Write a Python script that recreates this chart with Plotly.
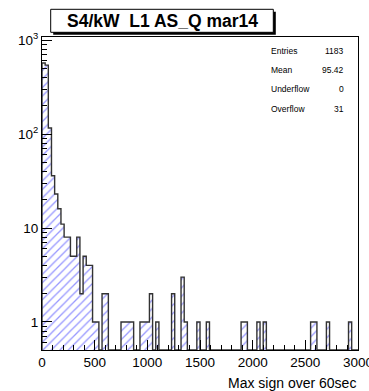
import plotly.graph_objects as go

# ---- data ----
x_min = 0
bin_width = 30
counts = [570, 540, 116, 36, 23, 16, 11, 8, 8, 5,
          5, 8, 2, 5, 4, 4, 1, 1, 0, 2,
          2, 0, 0, 0, 0, 1, 1, 1, 1, 0,
          0, 1, 1, 1, 2, 0, 1, 0, 0, 0,
          0, 2, 0, 0, 3, 1, 0, 0, 0, 1,
          0, 0, 1, 0, 0, 0, 0, 0, 0, 0,
          0, 0, 0, 1, 1, 0, 0, 0, 1, 0,
          1, 0, 0, 0, 0, 0, 0, 0, 0, 0,
          0, 0, 0, 0, 0, 1, 1, 0, 0, 0,
          1, 0, 0, 0, 0, 0, 0, 1, 0, 0]
x_ticks = [0, 500, 1000, 1500, 2000, 2500, 3000]
y_tickvals = [1, 10, 100, 1000]
y_ticktext = ["1", "10", "10<sup>2</sup>", "10<sup>3</sup>"]
title_text = "S4/kW\u00a0\u00a0L1 AS_Q mar14"
x_title = "Max sign over 60sec"
stat_names = ["Entries", "Mean", "Underflow", "Overflow"]
stat_values = ["1183", "95.42", "0", "31"]

# ---- geometry ----
W, H = 369, 391
L, R, T, B = 42, 358, 37, 350
log_lo, log_hi = -0.298, 3.032
y_floor = 10 ** log_lo

def pxx(px):
    return (px - L) / (R - L)

def pxy(py):
    return (B - py) / (B - T)

n = len(counts)
centers = [x_min + (i + 0.5) * bin_width for i in range(n)]
edges = [x_min + i * bin_width for i in range(n + 1)]
bar_y = [c if c > 0 else None for c in counts]

fig = go.Figure()
fig.add_trace(go.Bar(
    x=centers, y=bar_y, width=bin_width,
    marker=dict(color="white",
                line=dict(width=0),
                pattern=dict(shape="/", fgcolor="rgb(50,50,255)", bgcolor="white",
                             size=6, solidity=0.22)),
    showlegend=False, hoverinfo="skip"))

# histogram contour (step outline)
sx = [edges[0]]
sy = [y_floor]
for i, c in enumerate(counts):
    sx.append(edges[i])
    sy.append(c if c > 0 else y_floor)
sx.append(edges[-1]); sy.append(counts[-1] if counts[-1] > 0 else y_floor)
sx.append(edges[-1]); sy.append(y_floor)
fig.add_trace(go.Scatter(x=sx, y=sy, mode="lines", line=dict(color="#333333", width=1.4, shape="hv"),
                         showlegend=False, hoverinfo="skip"))

minor_y = []
for k in range(-1, 3):
    for d in range(2, 10):
        v = d * 10 ** k
        if y_floor < v < 10 ** log_hi:
            minor_y.append(v)

fig.update_layout(
    width=W, height=H,
    margin=dict(l=L, r=W - R, t=T, b=H - B, pad=0, autoexpand=False),
    paper_bgcolor="white", plot_bgcolor="white",
    bargap=0,
    font=dict(family="Liberation Sans, Arial, Helvetica, sans-serif", color="black"),
    xaxis=dict(range=[0, 3000], tickvals=x_ticks, ticktext=[str(v) for v in x_ticks],
               ticks="inside", ticklen=10, tickwidth=1, tickcolor="black",
               minor=dict(dtick=100, tick0=0, ticks="inside", ticklen=5, tickcolor="black", tickwidth=1),
               showline=True, linecolor="black", linewidth=1, mirror=True,
               ticklabeloverflow="allow", automargin=False,
               showgrid=False, zeroline=False, tickfont=dict(size=13.5)),
    yaxis=dict(type="log", range=[log_lo, log_hi], tickmode="array", tickvals=y_tickvals,
               ticktext=y_ticktext, ticks="inside", ticklen=10, tickwidth=1, tickcolor="black",
               minor=dict(tickmode="array", tickvals=minor_y, ticks="inside", ticklen=5,
                          tickcolor="black", tickwidth=1),
               showline=True, linecolor="black", linewidth=1, mirror=True, automargin=False,
               showgrid=False, zeroline=False, tickfont=dict(size=13.5)),
)

# title box with shadow
bx0, bx1, by0, by1 = 50.7, 273.3, 9.3, 32.3
fig.add_shape(type="rect", xref="paper", yref="paper",
              x0=pxx(bx0 + 2.5), x1=pxx(bx1 + 2.5), y0=pxy(by0 + 2.5), y1=pxy(by1 + 2.5),
              fillcolor="black", line=dict(width=0), layer="above")
fig.add_shape(type="rect", xref="paper", yref="paper",
              x0=pxx(bx0), x1=pxx(bx1), y0=pxy(by0), y1=pxy(by1),
              fillcolor="white", line=dict(color="black", width=1), layer="above")
fig.add_annotation(x=pxx((bx0 + bx1) / 2), y=pxy((by0 + by1) / 2 + 0.5), xref="paper", yref="paper",
                   text="<b>" + title_text + "</b>", showarrow=False,
                   font=dict(size=17.5, color="black"), xanchor="center", yanchor="middle")

# stats
row_y = [50.7, 70.0, 89.3, 109.3]
for name, val, ry in zip(stat_names, stat_values, row_y):
    fig.add_annotation(x=pxx(269), y=pxy(ry), xref="paper", yref="paper", text=name,
                       showarrow=False, xanchor="left", yanchor="middle", font=dict(size=8.5))
    fig.add_annotation(x=pxx(346), y=pxy(ry), xref="paper", yref="paper", text=val,
                       showarrow=False, xanchor="right", yanchor="middle", font=dict(size=8.5))

# x axis title
fig.add_annotation(x=pxx(358), y=pxy(383), xref="paper", yref="paper", text=x_title,
                   showarrow=False, xanchor="right", yanchor="middle", font=dict(size=14))

fig.write_html("out.html")
